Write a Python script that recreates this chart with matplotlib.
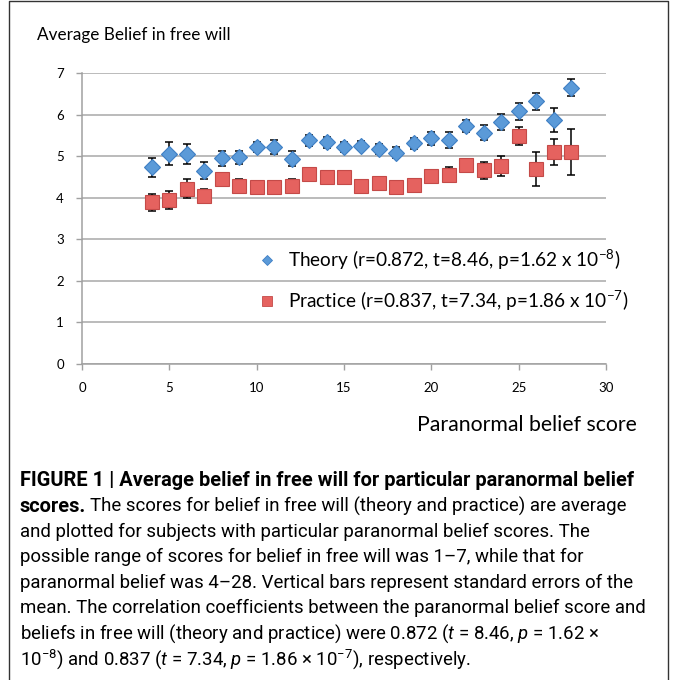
import matplotlib
matplotlib.use('Agg')
import matplotlib.pyplot as plt
from matplotlib.lines import Line2D

# ---------------- data ----------------
scores = list(range(4, 29))
theory = [4.73, 5.06, 5.06, 4.65, 4.95, 4.97, 5.22, 5.22, 4.94, 5.38, 5.33, 5.22, 5.25,
          5.17, 5.08, 5.31, 5.43, 5.39, 5.73, 5.56, 5.82, 6.08, 6.32, 5.87, 6.65]
theory_err = [0.22, 0.28, 0.24, 0.20, 0.18, 0.16, 0.13, 0.16, 0.18, 0.13, 0.13, 0.11, 0.11,
              0.13, 0.13, 0.13, 0.15, 0.20, 0.14, 0.18, 0.19, 0.20, 0.20, 0.28, 0.20]
practice = [3.89, 3.95, 4.22, 4.05, 4.45, 4.29, 4.25, 4.26, 4.28, 4.57, 4.50, 4.50, 4.27,
            4.35, 4.25, 4.30, 4.52, 4.55, 4.78, 4.66, 4.77, 5.49, 4.70, 5.10, 5.10]
practice_err = [0.20, 0.22, 0.22, 0.16, 0.15, 0.15, 0.10, 0.10, 0.17, 0.08, 0.10, 0.10, 0.08,
                0.08, 0.08, 0.08, 0.15, 0.18, 0.16, 0.20, 0.24, 0.22, 0.41, 0.32, 0.55]
x_ticks = [0, 5, 10, 15, 20, 25, 30]
y_ticks = [0, 1, 2, 3, 4, 5, 6, 7]
theory_label = r'Theory (r=0.872, t=8.46, p=1.62 x 10$^{\mathregular{-8}}$)'
practice_label = r'Practice (r=0.837, t=7.34, p=1.86 x 10$^{\mathregular{-7}}$)'
title = 'Average Belief in free will'
xlabel = 'Paranormal belief score'

W, H = 673, 680
fig = plt.figure(figsize=(W / 100, H / 100), dpi=100)
fig.patch.set_facecolor('white')

def fx(px):
    return px / W

def fy(py):
    return 1 - py / H

ax = fig.add_axes([fx(82), fy(364), fx(606) - fx(82), fy(73) - fy(364)])
ax.set_xlim(0, 30)
ax.set_ylim(0, 7)
ax.set_xticks(x_ticks)
ax.set_yticks(y_ticks)
chart_font = ['Lato', 'DejaVu Sans']
for lab in ax.get_xticklabels() + ax.get_yticklabels():
    lab.set_fontfamily(chart_font)
    lab.set_fontsize(9.5)
ax.tick_params(axis='both', direction='out', length=4, width=1, color='#a0a0a0')
ax.tick_params(axis='y', pad=9)
ax.tick_params(axis='x', pad=9)
ax.grid(axis='y', color='#a8a8a8', linewidth=1.1)
ax.set_axisbelow(True)
for s in ['top', 'right']:
    ax.spines[s].set_visible(False)
for s in ['left', 'bottom']:
    ax.spines[s].set_color('#a0a0a0')
    ax.spines[s].set_linewidth(1.1)

ax.errorbar(scores, theory, yerr=theory_err, fmt='none', ecolor='black', elinewidth=1.1,
            capsize=3.2, capthick=1.1, zorder=2)
ax.errorbar(scores, practice, yerr=practice_err, fmt='none', ecolor='black', elinewidth=1.1,
            capsize=3.2, capthick=1.1, zorder=2)
ax.plot(scores, theory, linestyle='none', marker='D', markersize=8,
        markerfacecolor='#5b9ad8', markeredgecolor='#3f7fc4', markeredgewidth=0.8, zorder=3)
ax.plot(scores, practice, linestyle='none', marker='s', markersize=9.5,
        markerfacecolor='#e5625f', markeredgecolor='#c44a48', markeredgewidth=0.8, zorder=3)

handles = [Line2D([], [], linestyle='none', marker='D', markersize=5.5,
                  markerfacecolor='#5b9ad8', markeredgecolor='#3f7fc4', markeredgewidth=0.6),
           Line2D([], [], linestyle='none', marker='s', markersize=6.5,
                  markerfacecolor='#e5625f', markeredgecolor='#c44a48', markeredgewidth=0.6)]
leg = ax.legend(handles, [theory_label, practice_label], loc='upper left',
                bbox_to_anchor=(fx(260), fy(247)), bbox_transform=fig.transFigure,
                frameon=False, handlelength=0.7, handletextpad=0.75, labelspacing=0.85,
                borderpad=0, borderaxespad=0,
                prop={'family': chart_font, 'size': 13.7})

fig.text(fx(37), fy(35), title, fontfamily=chart_font, fontsize=12.3, ha='left', va='center')
fig.text(fx(527), fy(425), xlabel, fontfamily=chart_font, fontsize=15.3, ha='center', va='center')

# outer frame
fig.add_artist(Line2D([fx(9), fx(9), fx(668), fx(668)], [fy(680), fy(1), fy(1), fy(680)],
                      transform=fig.transFigure, color='#333333', linewidth=1))

# caption
cap_font = ['Roboto', 'DejaVu Sans']
plt.rcParams['mathtext.fontset'] = 'custom'
plt.rcParams['mathtext.it'] = 'Roboto:italic'
plt.rcParams['mathtext.rm'] = 'Roboto'
cb = 14.4   # bold size
cs = 13.4   # regular size
x0 = fx(20)
ys = [480, 506, 531.5, 557, 582.5, 608, 633.5, 659]
fig.text(x0, fy(ys[0]), 'FIGURE 1 | Average belief in free will for particular paranormal belief',
         fontfamily=cap_font, fontsize=cb, fontweight='bold', ha='left', va='center')
t_b = fig.text(x0, fy(ys[1]), 'scores.', fontfamily=cap_font, fontsize=cb, fontweight='bold',
               ha='left', va='center')
fig.canvas.draw()
r = fig.canvas.get_renderer()
bb = t_b.get_window_extent(r)
fig.text(bb.x1 / W + fx(4), fy(ys[1]),
         'The scores for belief in free will (theory and practice) are average',
         fontfamily=cap_font, fontsize=cs, ha='left', va='center')
rest = [
    'and plotted for subjects with particular paranormal belief scores. The',
    'possible range of scores for belief in free will was 1\u20137, while that for',
    'paranormal belief was 4\u201328. Vertical bars represent standard errors of the',
    'mean. The correlation coefficients between the paranormal belief score and',
    'beliefs in free will (theory and practice) were 0.872 ($t$ = 8.46, $p$ = 1.62 \u00d7',
    '10$^{\\mathregular{\u22128}}$) and 0.837 ($t$ = 7.34, $p$ = 1.86 \u00d7 10$^{\\mathregular{\u22127}}$), respectively.',
]
for yy, s in zip(ys[2:], rest):
    fig.text(x0, fy(yy), s, fontfamily=cap_font, fontsize=cs, ha='left', va='center')

fig.savefig('out.png', dpi=100)
